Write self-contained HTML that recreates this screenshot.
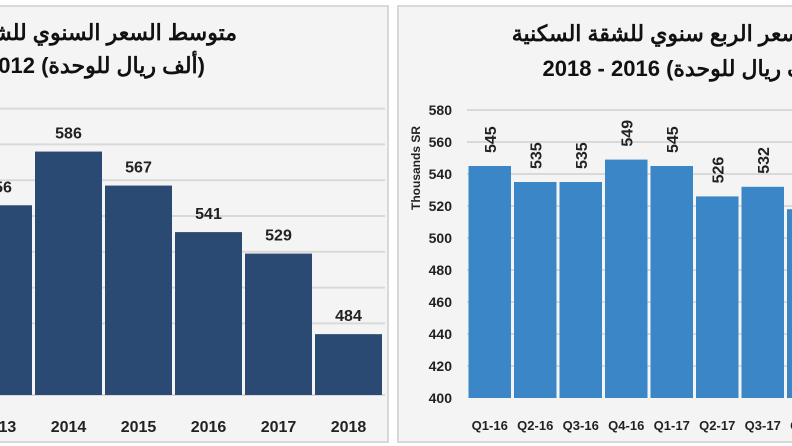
<!DOCTYPE html>
<html><head><meta charset="utf-8"><style>
html,body{margin:0;padding:0;background:#fff;}
svg{display:block;font-family:"Liberation Sans","Noto Sans CJK SC",sans-serif;}
</style></head><body>
<svg id="c" width="792" height="446" viewBox="0 0 792 446" xmlns="http://www.w3.org/2000/svg">
<defs><clipPath id="lc"><rect x="0" y="6" width="388" height="436"/></clipPath><clipPath id="rc"><rect x="398" y="6" width="394" height="436"/></clipPath></defs>
<rect x="-2" y="6" width="390" height="436" fill="#f4f4f4" stroke="#d8d8d8" stroke-width="2"/>
<rect x="398" y="6" width="400" height="436" fill="#f4f4f4" stroke="#d8d8d8" stroke-width="2"/>
<g clip-path="url(#lc)">
<text x="237" y="40" text-anchor="start" direction="rtl" font-size="22" font-weight="bold" fill="#111">متوسط السعر السنوي للشقة السكنية</text>
<text x="205" y="73" text-anchor="start" direction="rtl" font-size="22" font-weight="bold" fill="#111">(ألف ريال للوحدة)  2012 - 2018</text>
<g id="lg"></g><g id="lb"></g>
</g>
<g clip-path="url(#rc)">
<text x="800" y="41" text-anchor="start" direction="rtl" font-size="22" font-weight="bold" fill="#111">سعر الربع سنوي للشقة السكنية</text>
<text x="830" y="76" text-anchor="start" direction="rtl" font-size="22" font-weight="bold" fill="#111">(ألف ريال للوحدة) 2016 - 2018</text>
<text transform="translate(420,168) rotate(-90)" text-anchor="middle" font-size="12" font-weight="bold" fill="#222">Thousands SR</text>
<g id="rg"></g><g id="rb"></g>
</g>
</svg>
<script>
var leftYears=["2013","2014","2015","2016","2017","2018"];
var leftValues=[556,586,567,541,529,484];
var leftGrid=[490,510,530,550,570,590,610];
var rightQuarters=["Q1-16","Q2-16","Q3-16","Q4-16","Q1-17","Q2-17","Q3-17","Q4-17"];
var rightValues=[545,535,535,549,545,526,532,518];
var rightTicks=[400,420,440,460,480,500,520,540,560,580];
var NS="http://www.w3.org/2000/svg";
function mk(t,a,p){var e=document.createElementNS(NS,t);for(var k in a)e.setAttribute(k,a[k]);p.appendChild(e);return e;}
var lBase=395,lMin=450,lPx=1.79;
function ly(v){return lBase-(v-lMin)*lPx;}
var lx0=-37,lBand=70;
function lx(i){return lx0+i*lBand;}
var lg=document.getElementById('lg'),lb=document.getElementById('lb');
leftGrid.forEach(function(g){var l=mk('line',{x1:0,x2:385,y1:ly(g),y2:ly(g),stroke:'#d9d9d9','stroke-width':2},lg);

});
var bl=mk('line',{x1:0,x2:385,y1:lBase,y2:lBase,stroke:'#d9d9d9','stroke-width':2},lg);


leftValues.forEach(function(v,i){
var x=lx(i)+2,w=lBand-3;
var r=mk('rect',{x:x,y:ly(v),width:w,height:lBase-ly(v),fill:'#2b4a73'},lb);


var t=mk('text',{x:x+w/2,y:ly(v)-13,'text-anchor':'middle','font-size':16,'font-weight':'bold',fill:'#222'},lb);t.textContent=v;


var c=mk('text',{x:x+w/2,y:432,'text-anchor':'middle','font-size':16,'font-weight':'bold',fill:'#222'},lb);c.textContent=leftYears[i];


});
var rBase=398,rMin=400,rPx=1.6;
function ry(v){return rBase-(v-rMin)*rPx;}
var rx0=467,rBand=45.5;
function rx(i){return rx0+i*rBand;}
var rg=document.getElementById('rg'),rb=document.getElementById('rb');
rightTicks.forEach(function(t){
if(t>rMin){var l=mk('line',{x1:467,x2:800,y1:ry(t),y2:ry(t),stroke:'#d9d9d9','stroke-width':2},rg);

}
var tx=mk('text',{x:452,y:ry(t)+5,'text-anchor':'end','font-size':14,'font-weight':'bold',fill:'#222'},rg);tx.textContent=t;


});
rightValues.forEach(function(v,i){
var x=rx(i)+1.5,w=rBand-3;
var r=mk('rect',{x:x,y:ry(v),width:w,height:rBase-ry(v),fill:'#3a86c6'},rb);


var t=mk('text',{transform:'translate('+(x+w/2+6)+','+(ry(v)-13)+') rotate(-90)','text-anchor':'start','font-size':16,'font-weight':'bold',fill:'#222'},rb);t.textContent=v;


var c=mk('text',{x:x+w/2,y:430,'text-anchor':'middle','font-size':13,'font-weight':'bold',fill:'#222'},rb);c.textContent=rightQuarters[i];


});
</script>
</body></html>
